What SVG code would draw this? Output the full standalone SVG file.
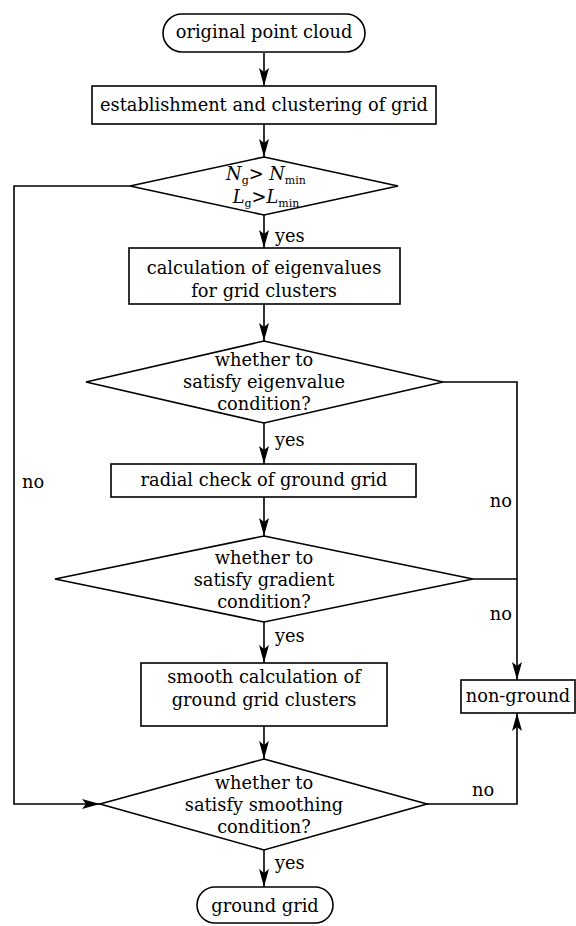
<svg xmlns="http://www.w3.org/2000/svg" width="576" height="926" viewBox="0 0 576 926">
<defs>
<marker id="ah" markerUnits="userSpaceOnUse" markerWidth="20" markerHeight="12" viewBox="-19 -6 20 12" refX="0" refY="0" orient="auto">
<path d="M0,0 L-18,-5 L-14,0 L-18,5 Z" fill="#000"/>
</marker>
</defs>
<style>
.s{fill:#fff;stroke:#000;stroke-width:1.6}
.c{fill:none;stroke:#000;stroke-width:1.6}
.a{marker-end:url(#ah)}
text{font-family:"DejaVu Serif","Liberation Serif",serif;font-size:17.8px;fill:#000}
.m{text-anchor:middle}
.e{text-anchor:end}
.i{font-style:italic}
.sub{font-size:11px}
</style>
<rect width="576" height="926" fill="#fff"/>
<g id="connectors">
<path class="c a" d="M264,53 V86"/>
<path class="c a" d="M264,124 V157"/>
<path class="c a" d="M264,215 V248"/>
<path class="c a" d="M264,304 V341"/>
<path class="c a" d="M264,423 V464"/>
<path class="c a" d="M264,497 V536"/>
<path class="c a" d="M264,622 V663"/>
<path class="c a" d="M264,726 V759"/>
<path class="c a" d="M264,850 V887"/>
<path class="c a" d="M130,186 H14 V804 H100"/>
<path class="c a" d="M443,382 H517 V680"/>
<path class="c" d="M473,579 H517"/>
<path class="c a" d="M427,804 H517 V713"/>
<text x="275" y="242">yes</text>
<text x="275" y="446">yes</text>
<text x="275" y="642">yes</text>
<text x="275" y="869">yes</text>
<text x="22" y="488">no</text>
<text x="512" y="507" class="e">no</text>
<text x="512" y="620" class="e">no</text>
<text x="472" y="796">no</text>
</g>
<g id="start">
<rect class="s" x="163" y="14" width="202" height="38" rx="19"/>
<text x="264" y="38" class="m">original point cloud</text>
</g>
<g id="grid">
<rect class="s" x="92" y="86" width="344" height="38"/>
<text x="264" y="111" class="m">establishment and clustering of grid</text>
</g>
<g id="cond1">
<polygon class="s" points="264,157 398,186 264,215 130,186"/>
<text x="266" y="180" class="m"><tspan class="i">N</tspan><tspan class="sub" dy="4">g</tspan><tspan dy="-4">&gt; </tspan><tspan class="i">N</tspan><tspan class="sub" dy="4">min</tspan></text>
<text x="266" y="203" class="m"><tspan class="i">L</tspan><tspan class="sub" dy="4">g</tspan><tspan dy="-4">&gt;</tspan><tspan class="i">L</tspan><tspan class="sub" dy="4">min</tspan></text>
</g>
<g id="eigen">
<rect class="s" x="129" y="248" width="271" height="56"/>
<text x="264" y="274" class="m">calculation of eigenvalues</text>
<text x="264" y="297" class="m">for grid clusters</text>
</g>
<g id="cond2">
<polygon class="s" points="264,341 443,382 264,423 86,382"/>
<text x="264" y="366" class="m">whether to</text>
<text x="264" y="388" class="m">satisfy eigenvalue</text>
<text x="264" y="410" class="m">condition?</text>
</g>
<g id="radial">
<rect class="s" x="111" y="464" width="305" height="33"/>
<text x="264" y="486" class="m">radial check of ground grid</text>
</g>
<g id="cond3">
<polygon class="s" points="264,536 473,579 264,622 55,579"/>
<text x="264" y="564" class="m">whether to</text>
<text x="264" y="586" class="m">satisfy gradient</text>
<text x="264" y="608" class="m">condition?</text>
</g>
<g id="smooth">
<rect class="s" x="141" y="663" width="246" height="63"/>
<text x="264" y="683" class="m">smooth calculation of</text>
<text x="264" y="706" class="m">ground grid clusters</text>
</g>
<g id="nonground">
<rect class="s" x="461" y="680" width="114" height="33"/>
<text x="518" y="702" class="m">non-ground</text>
</g>
<g id="cond4">
<polygon class="s" points="264,759 427,804 264,850 100,804"/>
<text x="264" y="789" class="m">whether to</text>
<text x="264" y="811" class="m">satisfy smoothing</text>
<text x="264" y="833" class="m">condition?</text>
</g>
<g id="end">
<rect class="s" x="197" y="887" width="136" height="36" rx="18"/>
<text x="265" y="912" class="m">ground grid</text>
</g>
</svg>
